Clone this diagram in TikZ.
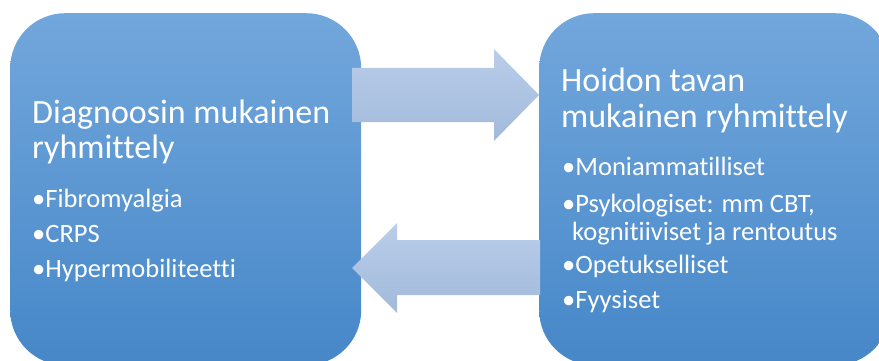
\documentclass[tikz,border=0pt]{standalone}
\usepackage{fontspec}
\setmainfont{Carlito}[Ligatures={NoCommon}]
\definecolor{boxtop}{RGB}{114,167,220}
\definecolor{boxbot}{RGB}{70,135,200}
\definecolor{arrtop}{RGB}{186,206,234}
\definecolor{arrbot}{RGB}{162,185,219}
\begin{document}
\begin{tikzpicture}[x=1pt,y=-1pt,
  box/.style={rounded corners=55pt, top color=boxtop, bottom color=boxbot, draw=none,
    minimum width=351pt, minimum height=352pt, inner sep=0pt, anchor=north west},
  blockarrow/.style={top color=arrtop, bottom color=arrbot, draw=none},
  title/.style={text=white, anchor=base west, inner sep=0pt, font=\fontsize{34}{40}\selectfont},
  item/.style={text=white, anchor=base west, inner sep=0pt, font=\fontsize{26.5}{32}\selectfont}]
\useasboundingbox (0,0) rectangle (879,361);
\clip (0,0) rectangle (879,361);
% boxes
\node[box] (left) at (10,13) {};
\node[box] (right) at (539,13) {};
% block arrows
\path[blockarrow] (352,68) -- (494,68) -- (494,49) -- (539,95) -- (494,141) -- (494,122) -- (352,122) -- cycle;
\path[blockarrow] (540,240) -- (397,240) -- (397,223) -- (352,268) -- (397,313) -- (397,295) -- (540,295) -- cycle;
% left texts
\node[title] (lt1) at (32,124) {Diagnoosin mukainen};
\node[title] (lt2) at (32,158) {ryhmittely};
\node[item] (l1) at (32,207) {•Fibromyalgia};
\node[item] (l2) at (32,242) {•CRPS};
\node[item] (l3) at (32,277) {•Hypermobiliteetti};
% right texts
\node[title] (rt1) at (561,92) {Hoidon tavan};
\node[title] (rt2) at (561,128) {mukainen ryhmittely};
\node[item] (r1) at (562,175) {•Moniammatilliset};
\node[item] (r2) at (562,212) {•Psykologiset: mm CBT,};
\node[item] (r2b) at (572,240) {kognitiiviset ja rentoutus};
\node[item] (r3) at (562,273) {•Opetukselliset};
\node[item] (r4) at (562,308) {•Fyysiset};
\end{tikzpicture}
\end{document}
